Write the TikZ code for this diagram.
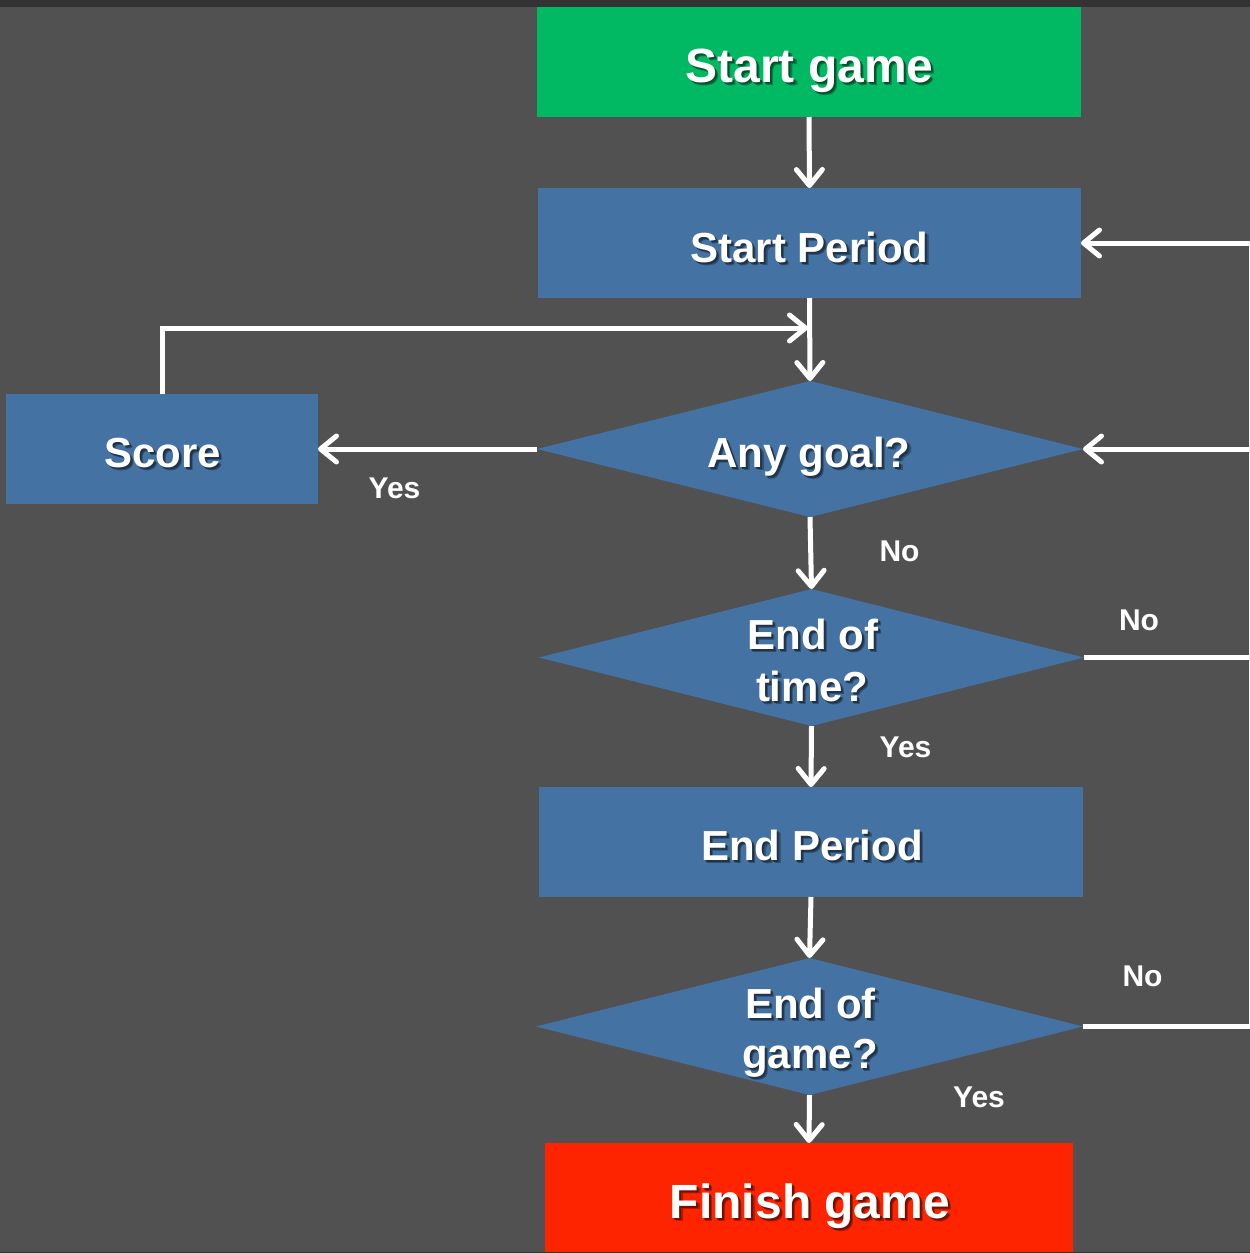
\documentclass[tikz,border=0pt]{standalone}
\usepackage{fontspec}
\setmainfont{Liberation Sans}
\usetikzlibrary{arrows.meta,shapes.geometric}
\definecolor{bg}{HTML}{515151}
\definecolor{topbar}{HTML}{333333}
\definecolor{boxblue}{HTML}{4472A2}
\definecolor{boxgreen}{HTML}{00B962}
\definecolor{boxred}{HTML}{FF2400}
\tikzset{
  box/.style={rectangle, inner sep=0pt, outer sep=0pt, draw=none},
  dia/.style={diamond, inner sep=0pt, outer sep=0pt, draw=none, fill=boxblue},
  txt/.style={text=white, anchor=base, inner sep=0pt, outer sep=0pt},
  lbl/.style={text=white, anchor=base, inner sep=0pt, font=\bfseries\fontsize{30}{36}\selectfont},
  conn/.style={draw=white, line width=5pt, -{Straight Barb[length=16pt,width=26pt,round]}},
  plain/.style={draw=white, line width=5pt},
}
% text with a soft drop shadow, all in one node
\newcommand{\shadowed}[2]{%
  \makebox[0pt][l]{\hspace*{3.2pt}\raisebox{-3.2pt}{\textcolor{#1!70!black}{#2}}}%
  \makebox[0pt][l]{\hspace*{2pt}\raisebox{-2pt}{\textcolor{#1!45!black}{#2}}}%
  #2}
\newcommand{\shtext}[6]{%
  \node[txt, font=\bfseries\fontsize{#4}{#4}\selectfont] (#1) at (#2,#3) {\shadowed{#5}{#6}};
}
\begin{document}
\begin{tikzpicture}[x=1pt,y=-1pt]
\fill[bg] (0,0) rectangle (1250,1253);
\fill[topbar] (0,0) rectangle (1250,7);
\useasboundingbox (0,0) rectangle (1250,1253);

% boxes
\node[box, fill=boxgreen, minimum width=544pt, minimum height=110pt] (sg) at (809,62) {};
\node[box, fill=boxblue, minimum width=543pt, minimum height=110pt] (sp) at (809.5,243) {};
\node[box, fill=boxblue, minimum width=312pt, minimum height=110pt] (sc) at (162,449) {};
\node[dia, minimum width=546pt, minimum height=136pt] (ag) at (810,449) {};
\node[dia, minimum width=545pt, minimum height=137pt] (et) at (811.5,657.5) {};
\node[box, fill=boxblue, minimum width=544pt, minimum height=110pt] (ep) at (811,842) {};
\node[dia, minimum width=547pt, minimum height=137pt] (eg) at (809.5,1026.5) {};
\node[box, fill=boxred, minimum width=528pt, minimum height=109pt] (fg) at (809,1197.5) {};
\fill[topbar] (0,1252) rectangle (1250,1253);

% texts
\shtext{tsg}{809.5}{82}{48}{boxgreen}{Start game}
\shtext{tsp}{809.5}{262}{42}{boxblue}{Start Period}
\shtext{tsc}{162.5}{467}{42}{boxblue}{Score}
\shtext{tag}{809}{467}{42}{boxblue}{Any goal?}
\shtext{tet1}{813}{649}{42}{boxblue}{End of}
\shtext{tet2}{812}{701}{42}{boxblue}{time?}
\shtext{tep}{812}{860}{42}{boxblue}{End Period}
\shtext{teg1}{810.5}{1018}{42}{boxblue}{End of}
\shtext{teg2}{810}{1068}{42}{boxblue}{game?}
\shtext{tfg}{810}{1218}{48}{boxred}{Finish game}

% labels
\node[lbl] (l1) at (394.5,498) {Yes};
\node[lbl] (l2) at (899.5,561) {No};
\node[lbl] (l3) at (1139,630) {No};
\node[lbl] (l4) at (905.5,757) {Yes};
\node[lbl] (l5) at (1142.5,986) {No};
\node[lbl] (l6) at (979,1107) {Yes};

% coordinates
\coordinate (j1) at (808,328);
\coordinate (rA) at (1251.5,449);
\coordinate (rE) at (1251.5,657.5);
\coordinate (rG) at (1251.5,1026.5);

% connectors
\draw[conn] (sg.south) -- (sp.north);
\draw[conn] (sp.south) -- (ag.north);
\draw[conn] (sc.north) |- (j1);
\draw[conn] (ag.west) -- (sc.east);
\draw[conn] (ag.south) -- (et.north);
\draw[conn] (et.south) -- (ep.north);
\draw[conn] (ep.south) -- (eg.north);
\draw[conn] (eg.south) -- (fg.north);
\draw[plain] (eg.east) -- (rG) -- (rE);
\draw[conn] (et.east) -- (rE) |- (sp.east);
\draw[conn] (rA) -- (ag.east);
\end{tikzpicture}
\end{document}
